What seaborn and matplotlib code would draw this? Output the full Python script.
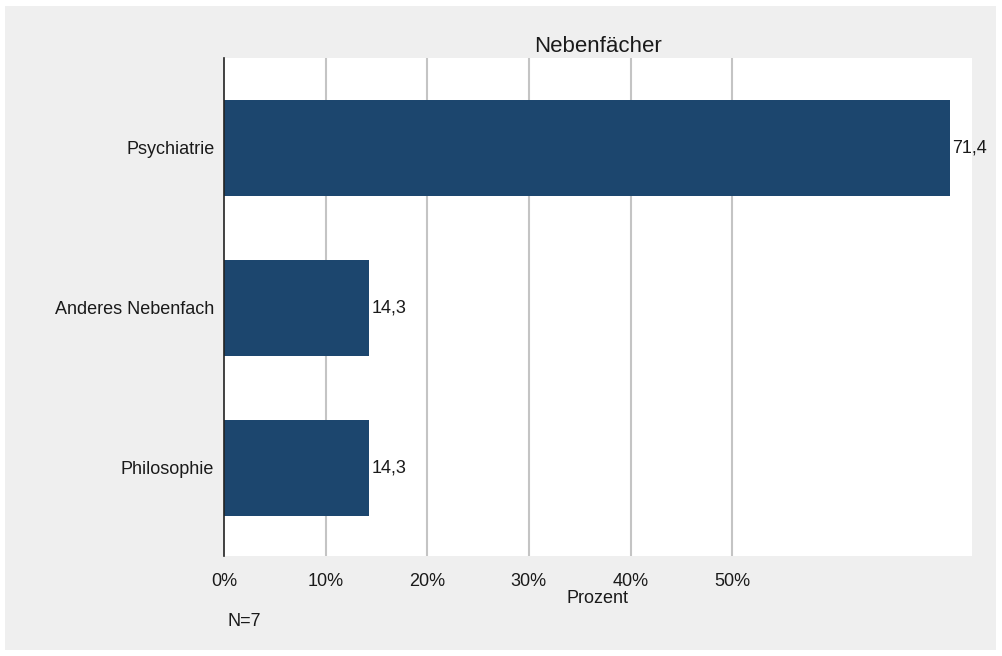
import pandas as pd
import matplotlib.pyplot as plt
import seaborn as sns
from matplotlib.patches import Rectangle

sns.set_theme(style="white")
plt.rcParams['font.family'] = ['Liberation Sans', 'DejaVu Sans']

# Daten
kategorien = ['Psychiatrie', 'Anderes Nebenfach', 'Philosophie']
prozent = [71.4, 14.3, 14.3]
ticks = [0, 10, 20, 30, 40, 50]
tick_labels = ['0%', '10%', '20%', '30%', '40%', '50%']

df = pd.DataFrame({'Fach': kategorien, 'Prozent': prozent})

fig = plt.figure(figsize=(10.02, 6.56), dpi=100, facecolor='white')
fig.patches.append(Rectangle((5 / 1002, 6 / 656), 991 / 1002, 644 / 656,
                             transform=fig.transFigure, facecolor='#efefef',
                             edgecolor='none', zorder=-10))
ax = fig.add_axes([224 / 1002, 1 - 556 / 656, 748 / 1002, 498 / 656])
ax.set_facecolor('white')

sns.barplot(data=df, x='Prozent', y='Fach', orient='h', color='#1c466e',
            width=0.6, saturation=1, linewidth=0, ax=ax, zorder=2)

for i, v in enumerate(prozent):
    ax.text(v + 0.2, i, f'{v:.1f}'.replace('.', ','), va='center', ha='left',
            fontsize=13, color='#1a1a1a')

ax.set_xlim(0, 73.6)
ax.set_ylim(2.55, -0.5625)
for t in ticks[1:]:
    ax.axvline(t, color='#c4c4c4', lw=1.5, zorder=1)
ax.set_xticks(ticks)
ax.set_xticklabels(tick_labels)
ax.tick_params(axis='both', length=0, labelsize=13, colors='#1a1a1a')
ax.tick_params(axis='x', pad=12)
ax.tick_params(axis='y', pad=7)
for s in ['top', 'right', 'bottom']:
    ax.spines[s].set_visible(False)
ax.spines['left'].set_color('#222222')
ax.spines['left'].set_linewidth(1.2)

ax.set_ylabel('')
ax.set_xlabel('Prozent', fontsize=13, color='#1a1a1a', labelpad=0)
ax.set_title('Nebenfächer', fontsize=16, color='#1a1a1a', pad=4)
fig.text(244 / 1002, 1 - 621 / 656, 'N=7', fontsize=13, ha='center',
         va='center', color='#1a1a1a')

plt.savefig('out.png', dpi=100, facecolor=fig.get_facecolor())
